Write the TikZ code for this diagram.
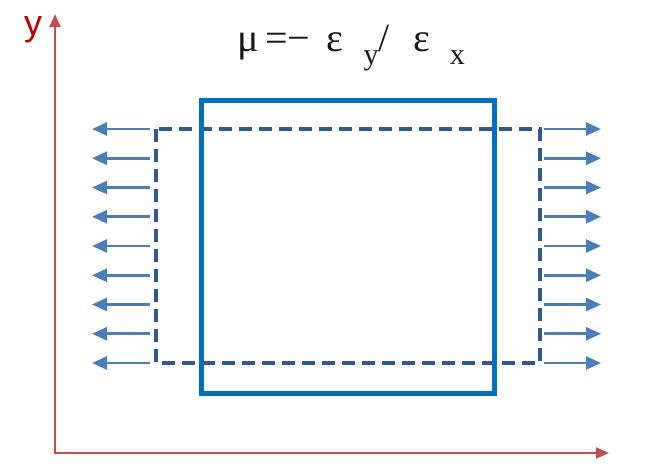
\documentclass[tikz,border=0pt]{standalone}
\usepackage{fontspec}
\setmainfont{Liberation Serif}
\newfontfamily\axisfont{Liberation Sans}
\usetikzlibrary{arrows.meta}
\definecolor{axisred}{HTML}{C0504D}
\definecolor{labelred}{HTML}{C00000}
\definecolor{boxblue}{HTML}{0070C0}
\definecolor{dashblue}{HTML}{2F5A8F}
\definecolor{pullblue}{HTML}{4A7EBB}
\tikzset{
  axisline/.style={axisred, line width=2.2pt, {Triangle[length=13pt,width=11pt]}-{Triangle[length=13pt,width=11pt]}},
  pullarrow/.style={pullblue, line width=2.6pt, -{Triangle[length=15pt,width=13pt]}},
}

\begin{document}
\begin{tikzpicture}[x=1pt,y=-1pt]
		%%%%% START %%%%%
		\useasboundingbox (0,0) rectangle (665,467);
		
		% axes
		\coordinate (ytip) at (55,14);
		\coordinate (origin) at (55,453);
		\coordinate (xtip) at (609,453);
		\draw[axisline] (ytip) -- (origin) -- (xtip);
		\node[labelred, font=\axisfont\fontsize{36}{38}\selectfont] (ylabel) at (33,30) {y};
		
		% title
		\node[font=\fontsize{40}{42}\selectfont, gray!20!black] (ratio) at (351,48)
			{μ\,=− \,ε\,\raisebox{-0.7ex}{\fontsize{30}{32}\selectfont\;\,y}/\,\, ε\,\raisebox{-0.7ex}{\fontsize{30}{32}\selectfont\;\,x}};
		
		% deformed shape
		\draw[dashblue, line width=4pt, dash pattern=on 13pt off 7pt] (156,129) rectangle (540,363);
		
		% original shape
		\draw[boxblue, line width=5pt] (201,100) rectangle (494,393);
		
		% tension arrows
		\foreach \i in {0,...,8} {
			\coordinate (l\i) at (150,129+29.25*\i);
			\coordinate (lt\i) at (92,129+29.25*\i);
			\coordinate (r\i) at (544,129+29.25*\i);
			\coordinate (rt\i) at (601,129+29.25*\i);
			\draw[pullarrow] (l\i) -- (lt\i);
			\draw[pullarrow] (r\i) -- (rt\i);
		}
		%%%%% END %%%%%
	\end{tikzpicture}
\end{document}
